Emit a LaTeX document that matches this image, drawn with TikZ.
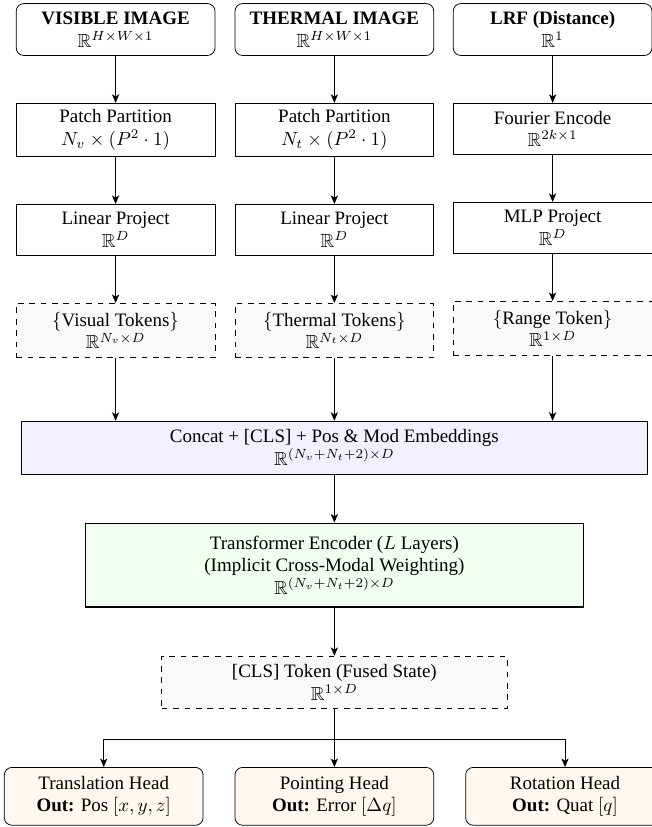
\documentclass[tikz,border=0pt]{standalone}
\usepackage{amsmath,amssymb}
\usepackage{fontspec}
\setmainfont{Liberation Serif}
\usetikzlibrary{positioning,arrows.meta}

\begin{document}
\begin{tikzpicture}[
        >={Stealth[length=4.5pt,width=3.8pt,inset=1.2pt]},
        inbox/.style={draw, rounded corners=4pt, minimum width=3.68cm, minimum height=0.96cm, align=center},
        opbox/.style={draw, minimum width=3.68cm, minimum height=0.95cm, align=center},
        tokbox/.style={draw, dashed, fill=gray!5, minimum width=3.68cm, minimum height=1cm, align=center},
        headbox/.style={draw, rounded corners=4pt, fill=orange!6, minimum width=3.68cm, minimum height=1.07cm, align=center},
        arr/.style={->},
        node distance=0.87cm
    ]
        \useasboundingbox (0,0) rectangle (12.07,-15.31);

        % visible branch
        \node[inbox, anchor=north] (vis) at (2.14,-0.06) {\textbf{VISIBLE IMAGE}\\ $\mathbb{R}^{H\times W\times 1}$};
        \node[opbox, below=of vis] (vpatch) {Patch Partition\\ $N_v \times (P^2 \cdot 1)$};
        \node[opbox, below=of vpatch] (vproj) {Linear Project\\ $\mathbb{R}^{D}$};
        \node[tokbox, below=of vproj] (vtok) {$\{$Visual Tokens$\}$\\ $\mathbb{R}^{N_v\times D}$};

        % thermal branch
        \node[inbox, anchor=north] (thm) at (6.19,-0.06) {\textbf{THERMAL IMAGE}\\ $\mathbb{R}^{H\times W\times 1}$};
        \node[opbox, below=of thm] (tpatch) {Patch Partition\\ $N_t \times (P^2 \cdot 1)$};
        \node[opbox, below=of tpatch] (tproj) {Linear Project\\ $\mathbb{R}^{D}$};
        \node[tokbox, below=of tproj] (ttok) {$\{$Thermal Tokens$\}$\\ $\mathbb{R}^{N_t\times D}$};

        % range branch
        \node[inbox, anchor=north] (lrf) at (10.23,-0.06) {\textbf{LRF (Distance)}\\ $\mathbb{R}^{1}$};
        \node[opbox, below=of lrf] (four) {Fourier Encode\\ $\mathbb{R}^{2k\times 1}$};
        \node[opbox, below=of four] (mlp) {MLP Project\\ $\mathbb{R}^{D}$};
        \node[tokbox, below=of mlp] (rtok) {$\{$Range Token$\}$\\ $\mathbb{R}^{1\times D}$};

        % fusion
        \node[draw, fill=blue!6, anchor=north, minimum width=11.6cm, minimum height=0.98cm, align=center]
                (concat) at (6.19,-7.79) {Concat + [CLS] + Pos \& Mod Embeddings\\ $\mathbb{R}^{(N_v+N_t+2)\times D}$};
        \node[draw, thick, fill=green!6, minimum width=9.22cm, minimum height=1.55cm, align=center,
                below=0.89cm of concat] (enc) {Transformer Encoder ($L$ Layers)\\ (Implicit Cross-Modal Weighting)\\ $\mathbb{R}^{(N_v+N_t+2)\times D}$};
        \node[tokbox, minimum width=6.39cm, minimum height=0.96cm, below=0.89cm of enc]
                (cls) {[CLS] Token (Fused State)\\ $\mathbb{R}^{1\times D}$};
        \coordinate[below=0.57cm of cls] (split);

        % heads
        \node[headbox, anchor=north] (trh) at (1.92,-14.2) {Translation Head\\ \textbf{Out:} Pos $[x,y,z]$};
        \node[headbox, anchor=north] (pth) at (6.19,-14.2) {Pointing Head\\ \textbf{Out:} Error $[\Delta q]$};
        \node[headbox, anchor=north] (roh) at (10.46,-14.2) {Rotation Head\\ \textbf{Out:} Quat $[q]$};

        \draw[arr] (vis) -- (vpatch);
        \draw[arr] (vpatch) -- (vproj);
        \draw[arr] (vproj) -- (vtok);
        \draw[arr] (thm) -- (tpatch);
        \draw[arr] (tpatch) -- (tproj);
        \draw[arr] (tproj) -- (ttok);
        \draw[arr] (lrf) -- (four);
        \draw[arr] (four) -- (mlp);
        \draw[arr] (mlp) -- (rtok);

        \draw[arr] (vtok) -- (vtok |- concat.north);
        \draw[arr] (ttok) -- (ttok |- concat.north);
        \draw[arr] (rtok) -- (rtok |- concat.north);
        \draw[arr] (concat) -- (enc);
        \draw[arr] (enc) -- (cls);

        \draw[arr] (cls) -- (pth);
        \draw[arr] (split) -| (trh.north);
        \draw[arr] (split) -| (roh.north);
    \end{tikzpicture}
\end{document}
